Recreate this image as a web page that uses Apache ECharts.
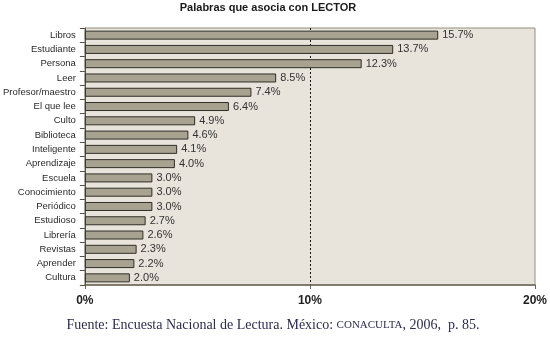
<!DOCTYPE html>
<html>
<head>
<meta charset="utf-8">
<script src="https://cdn.jsdelivr.net/npm/echarts@6/dist/echarts.min.js"></script>
<style>
  html, body { margin: 0; padding: 0; background: #fff; }
  #chart { width: 550px; height: 337px; }
</style>
</head>
<body>
<div id="chart"></div>
<script>
  const categories = ['Libros', 'Estudiante', 'Persona', 'Leer', 'Profesor/maestro', 'El que lee', 'Culto',
    'Biblioteca', 'Inteligente', 'Aprendizaje', 'Escuela', 'Conocimiento', 'Periódico', 'Estudioso',
    'Librería', 'Revistas', 'Aprender', 'Cultura']
  const values = [15.7, 13.7, 12.3, 8.5, 7.4, 6.4, 4.9, 4.6, 4.1, 4.0, 3.0, 3.0, 3.0, 2.7, 2.6, 2.3, 2.2, 2.0]
  const xTicks = [0, 10, 20]

  const myChart = echarts.init(document.getElementById('chart'))

  const option = {
    backgroundColor: '#ffffff',
    animation: false,
    title: [
      {
        text: 'Palabras que asocia con LECTOR',
        left: 268,
        textAlign: 'center',
        top: 2,
        padding: 0,
        textStyle: { fontFamily: 'Liberation Sans', fontSize: 11, fontWeight: 'bold', color: '#1a1a1a' }
      },
      {
        // pie de fuente, CONACULTA en versalitas
        text: 'Fuente: Encuesta Nacional de Lectura. México: {sc|CONACULTA}, 2006,  p. 85.',
        left: 273,
        textAlign: 'center',
        top: 318,
        padding: 0,
        textStyle: {
          fontFamily: 'Liberation Serif', fontSize: 14, fontWeight: 'normal', color: '#2c2d4c',
          rich: { sc: { fontFamily: 'Liberation Serif', fontSize: 11, color: '#2c2d4c' } }
        }
      }
    ],
    grid: {
      left: 82,
      right: 13,
      top: 28,
      bottom: 52,
      show: true,
      backgroundColor: '#e8e4dc',
      borderColor: '#948e7f',
      borderWidth: 1
    },
    xAxis: {
      type: 'value',
      min: xTicks[0],
      max: xTicks[xTicks.length - 1],
      interval: 10,
      axisLine: { show: true, lineStyle: { color: '#6b6557', width: 1.5 } },
      axisTick: { show: true, length: 4, lineStyle: { color: '#6b6557' } },
      axisLabel: {
        formatter: v => v + '%',
        margin: 10,
        fontFamily: 'Liberation Sans', fontSize: 12, fontWeight: 'bold', color: '#222'
      },
      splitLine: {
        show: true,
        showMinLine: false,
        showMaxLine: false,
        lineStyle: { color: '#111', type: [2, 2], width: 1 }
      }
    },
    yAxis: {
      type: 'category',
      inverse: true,
      data: categories,
      axisLine: { show: true, lineStyle: { color: '#555046', width: 1 } },
      axisTick: { show: true, length: 5, lineStyle: { color: '#555046' } },
      axisLabel: {
        margin: 9,
        fontFamily: 'Liberation Sans', fontSize: 9.5, color: '#2a2a2a'
      }
    },
    series: [
      {
        type: 'bar',
        data: values,
        barWidth: 9,
        itemStyle: { color: '#a8a391', borderColor: '#2f2d27', borderWidth: 1 },
        label: {
          show: true,
          position: 'right',
          distance: 4,
          formatter: p => p.value.toFixed(1) + '%',
          fontFamily: 'Liberation Sans', fontSize: 11, color: '#333'
        }
      }
    ]
  }

  myChart.setOption(option)
</script>
</body>
</html>
